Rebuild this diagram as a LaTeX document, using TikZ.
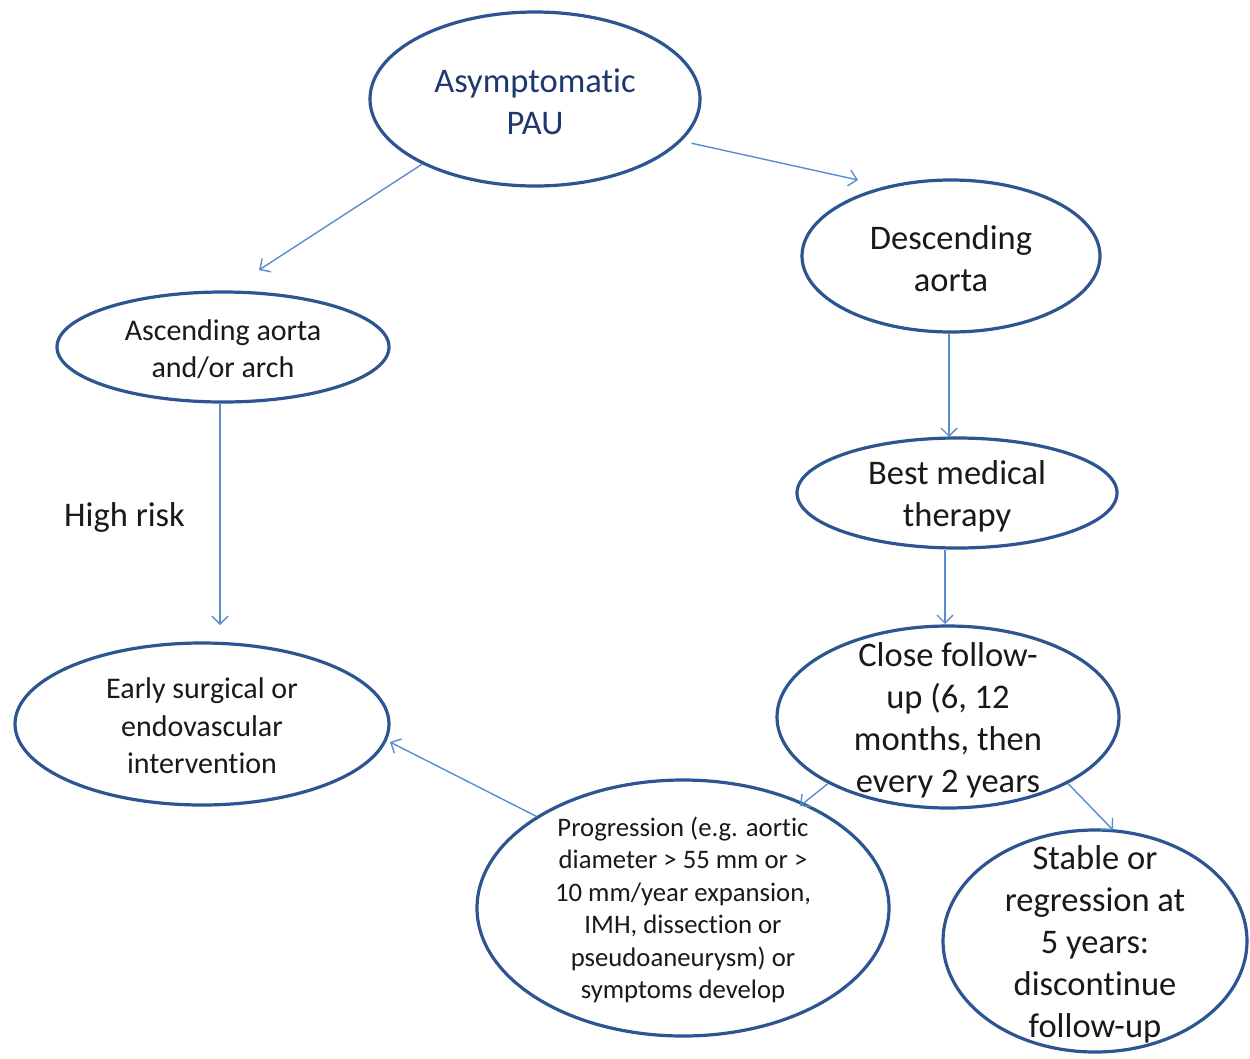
\documentclass[tikz,border=0pt]{standalone}
\usepackage{fontspec}
\setmainfont{Carlito}[RawFeature={-liga;-clig;-dlig}]
\usetikzlibrary{shapes.geometric,arrows.meta}
\definecolor{ovalblue}{RGB}{44,85,145}
\definecolor{arrowblue}{RGB}{91,140,205}
\definecolor{textdark}{RGB}{25,25,25}
\definecolor{titlenavy}{RGB}{31,56,110}
\tikzset{
  oval/.style={ellipse, draw=ovalblue, line width=3.2pt, inner sep=0pt},
  bigtxt/.style={text=textdark, align=center, inner sep=0pt, yshift=-3pt, font=\fontsize{34.5}{42}\selectfont},
  midtxt/.style={text=textdark, align=center, inner sep=0pt, yshift=-2pt, font=\fontsize{30}{37.5}\selectfont},
  smalltxt/.style={text=textdark, align=center, inner sep=0pt, yshift=-2pt, font=\fontsize{26.7}{32.5}\selectfont},
  arr/.style={draw=arrowblue, line width=1.4pt, -{Straight Barb[length=8pt, width=16pt, line width=1.4pt]}}
}
\begin{document}
\begin{tikzpicture}[x=1pt, y=-1pt]
\useasboundingbox (0,0) rectangle (1250,1058);
\fill[white] (0,0) rectangle (1250,1058);

% ellipses
\node[oval, minimum width=330pt, minimum height=174pt] (pau) at (535,99) {};
\node[oval, minimum width=298pt, minimum height=152pt] (desc) at (951,256) {};
\node[oval, minimum width=332pt, minimum height=110pt] (asc) at (223,347) {};
\node[oval, minimum width=320pt, minimum height=110pt] (best) at (957,493) {};
\node[oval, minimum width=342pt, minimum height=182pt] (close) at (948,717) {};
\node[oval, minimum width=374pt, minimum height=162pt] (early) at (202,724) {};
\node[oval, minimum width=412pt, minimum height=256pt] (prog) at (683,908) {};
\node[oval, minimum width=304pt, minimum height=222pt] (stable) at (1095,941) {};

% texts
\node[bigtxt, text=titlenavy] (pau-t) at (pau) {Asymptomatic\\PAU};
\node[bigtxt] (desc-t) at (desc) {Descending\\aorta};
\node[midtxt] (asc-t) at (asc) {Ascending aorta\\and/or arch};
\node[bigtxt] (best-t) at (best) {Best medical\\therapy};
\node[bigtxt] (close-t) at (close) {Close follow-\\up (6, 12\\months, then\\every 2 years};
\node[midtxt] (early-t) at (early) {Early surgical or\\endovascular\\intervention};
\node[smalltxt] (prog-t) at (prog) {Progression (e.g. aortic\\diameter > 55 mm or >\\10 mm/year expansion,\\IMH, dissection or\\pseudoaneurysm) or\\symptoms develop};
\node[bigtxt] (stable-t) at (stable) {Stable or\\regression at\\5 years:\\discontinue\\follow-up};
\node[bigtxt, anchor=west] (risk) at (64,514) {High risk};

% arrow tips
\coordinate (tipAsc) at (259,270);
\coordinate (tipDesc) at (858,180);
\coordinate (tipEarly) at (220,625);
\coordinate (tipBest) at (949,437);
\coordinate (tipClose) at (945,624);
\coordinate (tipProg) at (800,806);
\coordinate (tipStable) at (1113,830);
\coordinate (tipEarly2) at (390,742);

% connectors
\draw[arr] (pau.210) -- (tipAsc);
\draw[arr, shorten <=10pt] (pau.344) -- (tipDesc);
\draw[arr] (asc.south -| tipEarly) -- (tipEarly);
\draw[arr] (desc.south -| tipBest) -- (tipBest);
\draw[arr] (best.south -| tipClose) -- (tipClose);
\draw[arr] (close.209) -- (tipProg);
\draw[arr] (close.331) -- (tipStable);
\draw[arr] (prog.148) -- (tipEarly2);
\end{tikzpicture}
\end{document}
